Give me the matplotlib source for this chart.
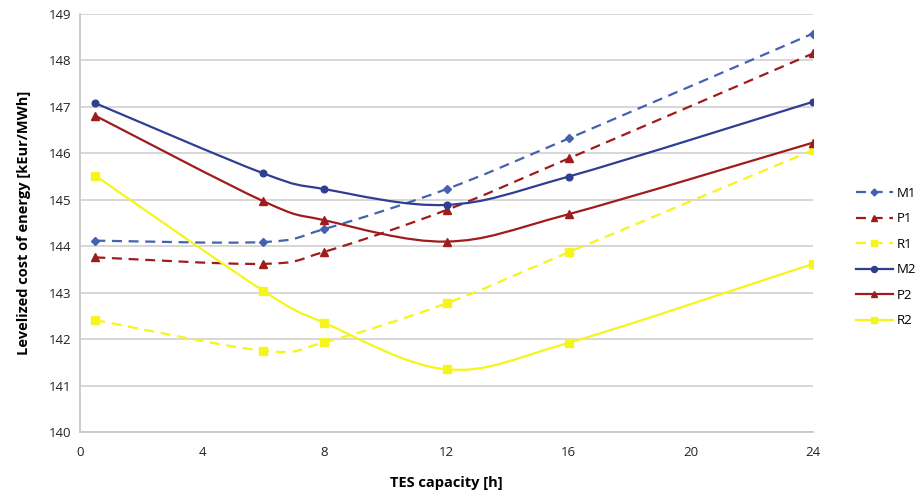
import numpy as np
import matplotlib
matplotlib.use("Agg")
import matplotlib.pyplot as plt
from matplotlib.path import Path
from matplotlib.patches import PathPatch
from matplotlib.lines import Line2D

# ---- data ----
tes_hours = [0.5, 6, 8, 12, 16, 24]
M1 = [144.12, 144.09, 144.37, 145.23, 146.32, 148.58]
P1 = [143.76, 143.62, 143.88, 144.78, 145.89, 148.15]
R1 = [142.41, 141.75, 141.93, 142.77, 143.87, 146.07]
M2 = [147.08, 145.57, 145.23, 144.89, 145.50, 147.11]
P2 = [146.81, 144.97, 144.56, 144.10, 144.69, 146.23]
R2 = [145.52, 143.04, 142.35, 141.35, 141.92, 143.62]
series_names = ["M1", "P1", "R1", "M2", "P2", "R2"]
series_values = [M1, P1, R1, M2, P2, R2]
x_ticks = [0, 4, 8, 12, 16, 20, 24]
y_ticks = [140, 141, 142, 143, 144, 145, 146, 147, 148, 149]

# ---- styles ----
blue_d, blue_s = "#4462B0", "#2E3F92"
red = "#A01C1C"
yellow = "#F5F51C"
styles = {
    "M1": dict(color=blue_d, ls=(0, (4.5, 3)), marker="D", ms=4),
    "P1": dict(color=red, ls=(0, (4.5, 3)), marker="^", ms=5.5),
    "R1": dict(color=yellow, ls=(0, (4.5, 3)), marker="s", ms=5.5),
    "M2": dict(color=blue_s, ls="-", marker="o", ms=4.8),
    "P2": dict(color=red, ls="-", marker="^", ms=5.5),
    "R2": dict(color=yellow, ls="-", marker="s", ms=5.5),
}

plt.rcParams["font.family"] = ["Open Sans", "DejaVu Sans"]

fig = plt.figure(figsize=(9.17, 4.92), dpi=100)
ax = fig.add_axes([80 / 917, 1 - 432 / 492, (813 - 80) / 917, (432 - 14) / 492])
ax.set_xlim(0, 24)
ax.set_ylim(140, 149)


def smooth_path(ax, xs, ys):
    # Excel-like smoothed line: Catmull-Rom Bezier computed in display space
    pts = ax.transData.transform(np.column_stack([xs, ys]))
    n = len(pts)
    verts = [pts[0]]
    codes = [Path.MOVETO]
    for i in range(n - 1):
        p0 = pts[i - 1] if i > 0 else pts[i]
        p1 = pts[i]
        p2 = pts[i + 1]
        p3 = pts[i + 2] if i + 2 < n else pts[i + 1]
        c1 = p1 + (p2 - p0) / 6.0
        c2 = p2 - (p3 - p1) / 6.0
        verts += [c1, c2, p2]
        codes += [Path.CURVE4] * 3
    inv = ax.transData.inverted()
    return Path(inv.transform(np.array(verts)), codes)


handles = []
for name, vals in zip(series_names, series_values):
    st = styles[name]
    path = smooth_path(ax, tes_hours, vals)
    patch = PathPatch(path, fill=False, edgecolor=st["color"], lw=1.6,
                      linestyle=st["ls"], zorder=3, capstyle="butt")
    ax.add_patch(patch)
    ax.plot(tes_hours, vals, ls="none", marker=st["marker"], ms=st["ms"],
            color=st["color"], mec=st["color"], zorder=4)
    handles.append(Line2D([], [], color=st["color"], lw=1.6, ls=st["ls"],
                          marker=st["marker"], ms=st["ms"] - 0.5, label=name))

ax.set_xticks(x_ticks)
ax.set_yticks(y_ticks)
ax.tick_params(axis="both", length=0, labelsize=9.5, colors="#222222", pad=6)
ax.tick_params(axis="x", pad=10)
ax.yaxis.grid(True, color="#d4d4d4", lw=1.3)
ax.set_axisbelow(True)
for s in ["top", "right"]:
    ax.spines[s].set_visible(False)
for s in ["left", "bottom"]:
    ax.spines[s].set_color("#c8c8c8")
    ax.spines[s].set_linewidth(1.3)

ax.set_ylabel("Levelized cost of energy [kEur/MWh]", fontsize=10.5,
              fontweight="bold", labelpad=13)
ax.set_xlabel("TES capacity [h]", fontsize=10.5, fontweight="bold", labelpad=12)

fig.legend(handles=handles, loc="upper left", bbox_to_anchor=(849 / 917, 1 - 180 / 492),
           frameon=False, fontsize=9.5, handlelength=2.8, handletextpad=0.3,
           labelspacing=0.95, borderpad=0)

fig.savefig("out.png", dpi=100)
